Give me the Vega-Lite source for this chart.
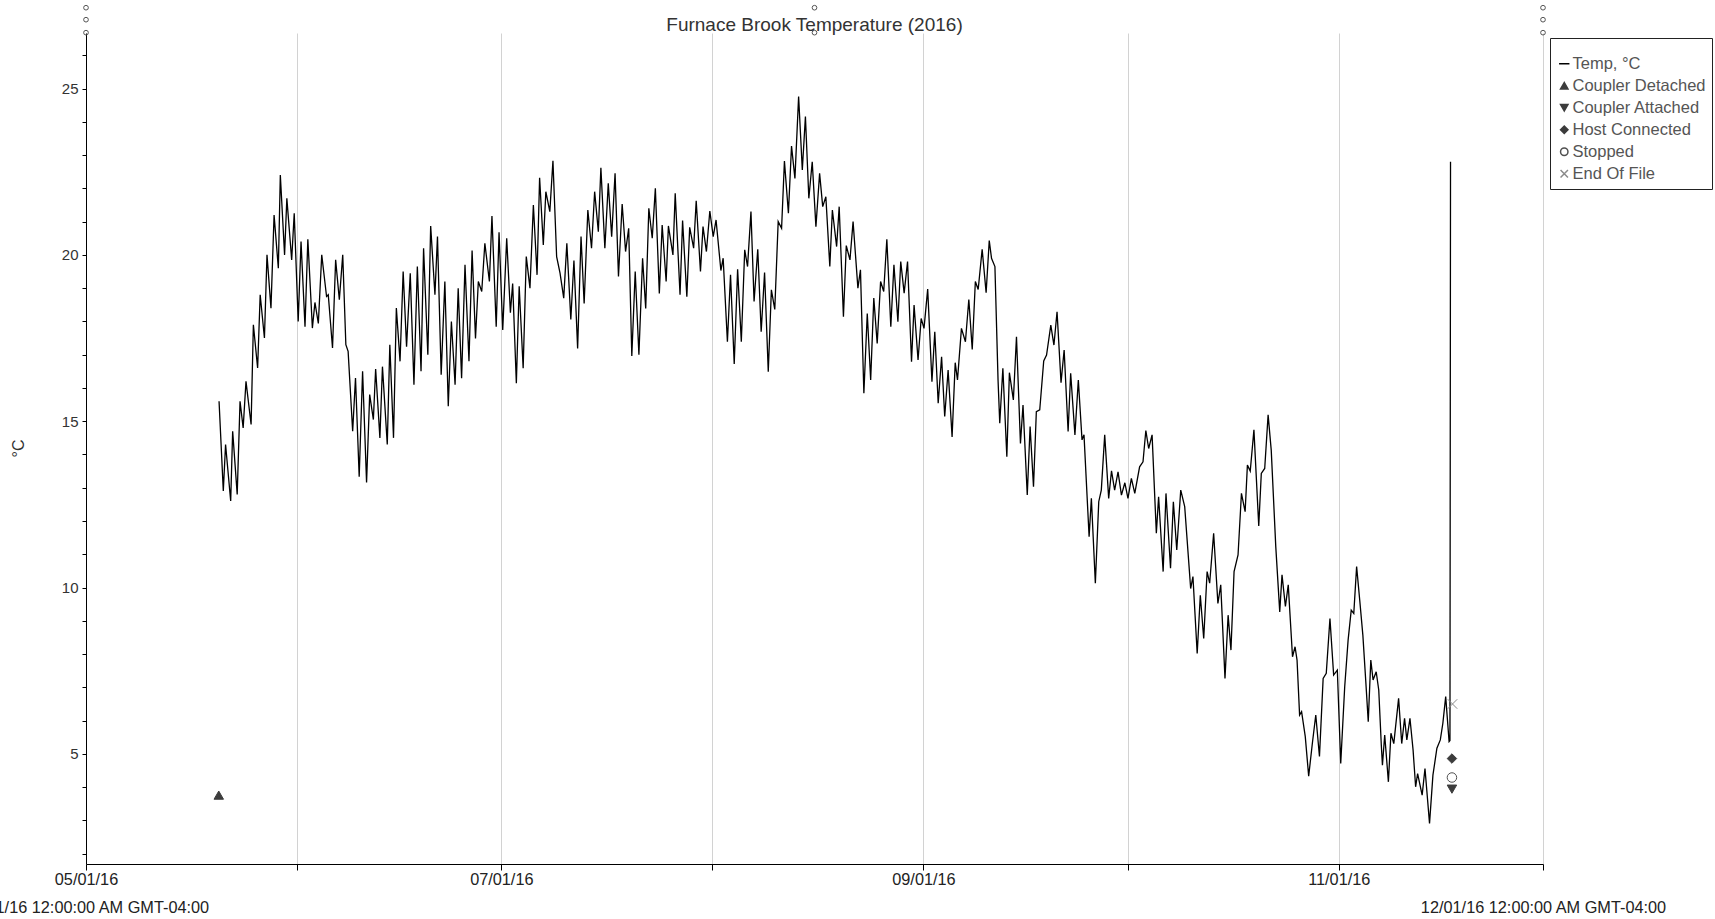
{
  "$schema": "https://vega.github.io/schema/vega-lite/v6.json",
  "width": 1457,
  "height": 831,
  "autosize": {"type": "none"},
  "padding": {"left": 86, "top": 33, "right": 172, "bottom": 55},
  "background": "white",
  "config": {"view": {"stroke": null}, "font": "Liberation Sans", "axisY": {"labelOverlap": false}, "axis": {"labelOverlap": false}},
  "title": {"text": "Furnace Brook Temperature (2016)", "frame": "group", "anchor": "middle", "baseline": "middle", "offset": -40.5, "fontSize": 19, "fontWeight": "normal", "color": "#333333", "font": "Liberation Sans"},
  "datasets": {
    "temp": [
      {"t":"2016-05-20T13:00","v":15.6},{"t":"2016-05-21T04:00","v":12.9},{"t":"2016-05-21T12:00","v":14.3},{"t":"2016-05-22T06:00","v":12.6},{"t":"2016-05-22T13:00","v":14.7},{"t":"2016-05-23T05:00","v":12.8},{"t":"2016-05-23T15:00","v":15.6},{"t":"2016-05-24T02:00","v":14.8},{"t":"2016-05-24T12:00","v":16.2},{"t":"2016-05-25T06:00","v":14.9},{"t":"2016-05-25T14:00","v":17.9},{"t":"2016-05-26T05:00","v":16.6},{"t":"2016-05-26T14:00","v":18.8},{"t":"2016-05-27T05:00","v":17.5},{"t":"2016-05-27T14:00","v":20.0},{"t":"2016-05-28T04:00","v":18.4},{"t":"2016-05-28T15:00","v":21.2},{"t":"2016-05-29T06:00","v":19.6},{"t":"2016-05-29T13:00","v":22.4},{"t":"2016-05-30T04:00","v":20.0},{"t":"2016-05-30T12:00","v":21.7},{"t":"2016-05-31T05:00","v":19.85},{"t":"2016-05-31T14:00","v":21.25},
      {"t":"2016-06-01T04:00","v":18.0},{"t":"2016-06-01T14:00","v":20.4},{"t":"2016-06-02T04:00","v":17.84},{"t":"2016-06-02T14:00","v":20.47},{"t":"2016-06-03T06:00","v":17.8},{"t":"2016-06-03T15:00","v":18.57},{"t":"2016-06-04T03:00","v":17.94},{"t":"2016-06-04T15:00","v":20.0},{"t":"2016-06-05T08:00","v":18.75},{"t":"2016-06-05T14:00","v":18.8},{"t":"2016-06-06T05:00","v":17.2},{"t":"2016-06-06T16:00","v":19.85},{"t":"2016-06-07T05:00","v":18.65},{"t":"2016-06-07T17:00","v":20.0},{"t":"2016-06-08T04:00","v":17.3},{"t":"2016-06-08T12:00","v":17.1},{"t":"2016-06-09T04:00","v":14.7},{"t":"2016-06-09T14:00","v":16.3},{"t":"2016-06-10T03:00","v":13.33},{"t":"2016-06-10T15:00","v":16.5},{"t":"2016-06-11T05:00","v":13.16},{"t":"2016-06-11T16:00","v":15.8},{"t":"2016-06-12T05:00","v":15.05},{"t":"2016-06-12T13:00","v":16.57},{"t":"2016-06-13T04:00","v":14.5},{"t":"2016-06-13T13:00","v":16.64},{"t":"2016-06-14T06:00","v":14.3},{"t":"2016-06-14T15:00","v":17.3},{"t":"2016-06-15T04:00","v":14.5},{"t":"2016-06-15T14:00","v":18.4},{"t":"2016-06-16T03:00","v":16.8},{"t":"2016-06-16T14:00","v":19.5},{"t":"2016-06-17T02:00","v":17.24},{"t":"2016-06-17T15:00","v":19.45},{"t":"2016-06-18T04:00","v":16.1},{"t":"2016-06-18T16:00","v":19.65},{"t":"2016-06-19T05:00","v":16.5},{"t":"2016-06-19T14:00","v":20.2},{"t":"2016-06-20T05:00","v":17.0},{"t":"2016-06-20T15:00","v":20.87},{"t":"2016-06-21T06:00","v":18.8},{"t":"2016-06-21T15:00","v":20.55},{"t":"2016-06-22T04:00","v":16.4},{"t":"2016-06-22T17:00","v":19.2},{"t":"2016-06-23T05:00","v":15.45},{"t":"2016-06-23T16:00","v":18.0},{"t":"2016-06-24T05:00","v":16.1},{"t":"2016-06-24T16:00","v":19.0},{"t":"2016-06-25T04:00","v":16.29},{"t":"2016-06-25T16:00","v":19.7},{"t":"2016-06-26T06:00","v":16.8},{"t":"2016-06-26T17:00","v":20.13},{"t":"2016-06-27T05:00","v":17.49},{"t":"2016-06-27T15:00","v":19.2},{"t":"2016-06-28T03:00","v":18.9},{"t":"2016-06-28T14:00","v":20.35},{"t":"2016-06-29T06:00","v":19.2},{"t":"2016-06-29T15:00","v":21.17},{"t":"2016-06-30T06:00","v":17.84},{"t":"2016-06-30T16:00","v":20.68},
      {"t":"2016-07-01T05:00","v":17.74},{"t":"2016-07-01T19:00","v":20.5},{"t":"2016-07-02T08:00","v":18.26},{"t":"2016-07-02T16:00","v":19.14},{"t":"2016-07-03T05:00","v":16.14},{"t":"2016-07-03T15:00","v":19.06},{"t":"2016-07-04T05:00","v":16.59},{"t":"2016-07-04T16:00","v":19.95},{"t":"2016-07-05T05:00","v":19.0},{"t":"2016-07-05T17:00","v":21.5},{"t":"2016-07-06T06:00","v":19.4},{"t":"2016-07-06T15:00","v":22.32},{"t":"2016-07-07T04:00","v":20.3},{"t":"2016-07-07T13:00","v":21.9},{"t":"2016-07-08T03:00","v":21.3},{"t":"2016-07-08T14:00","v":22.83},{"t":"2016-07-09T03:00","v":19.95},{"t":"2016-07-09T15:00","v":19.45},{"t":"2016-07-10T04:00","v":18.7},{"t":"2016-07-10T15:00","v":20.35},{"t":"2016-07-11T05:00","v":18.06},{"t":"2016-07-11T16:00","v":19.83},{"t":"2016-07-12T05:00","v":17.19},{"t":"2016-07-12T17:00","v":20.55},{"t":"2016-07-13T04:00","v":18.54},{"t":"2016-07-13T17:00","v":21.35},{"t":"2016-07-14T06:00","v":20.2},{"t":"2016-07-14T17:00","v":21.9},{"t":"2016-07-15T06:00","v":20.7},{"t":"2016-07-15T15:00","v":22.62},{"t":"2016-07-16T05:00","v":20.2},{"t":"2016-07-16T17:00","v":22.15},{"t":"2016-07-17T05:00","v":20.55},{"t":"2016-07-17T17:00","v":22.45},{"t":"2016-07-18T05:00","v":19.35},{"t":"2016-07-18T18:00","v":21.53},{"t":"2016-07-19T06:00","v":20.1},{"t":"2016-07-19T17:00","v":20.8},{"t":"2016-07-20T04:00","v":16.96},{"t":"2016-07-20T16:00","v":19.5},{"t":"2016-07-21T05:00","v":17.0},{"t":"2016-07-21T18:00","v":19.9},{"t":"2016-07-22T05:00","v":18.39},{"t":"2016-07-22T16:00","v":21.4},{"t":"2016-07-23T04:00","v":20.5},{"t":"2016-07-23T15:00","v":22.0},{"t":"2016-07-24T05:00","v":18.84},{"t":"2016-07-24T15:00","v":20.9},{"t":"2016-07-25T05:00","v":19.2},{"t":"2016-07-25T13:00","v":20.87},{"t":"2016-07-26T05:00","v":20.0},{"t":"2016-07-26T13:00","v":21.85},{"t":"2016-07-27T06:00","v":18.8},{"t":"2016-07-27T15:00","v":21.03},{"t":"2016-07-28T06:00","v":18.74},{"t":"2016-07-28T16:00","v":20.83},{"t":"2016-07-29T06:00","v":20.2},{"t":"2016-07-29T15:00","v":21.63},{"t":"2016-07-30T06:00","v":19.5},{"t":"2016-07-30T15:00","v":20.85},{"t":"2016-07-31T03:00","v":20.1},{"t":"2016-07-31T15:00","v":21.32},
      {"t":"2016-08-01T03:00","v":20.55},{"t":"2016-08-01T13:00","v":21.05},{"t":"2016-08-02T06:00","v":19.53},{"t":"2016-08-02T14:00","v":19.9},{"t":"2016-08-03T05:00","v":17.39},{"t":"2016-08-03T16:00","v":19.4},{"t":"2016-08-04T05:00","v":16.72},{"t":"2016-08-04T17:00","v":19.57},{"t":"2016-08-05T06:00","v":17.39},{"t":"2016-08-05T18:00","v":20.15},{"t":"2016-08-06T04:00","v":19.65},{"t":"2016-08-06T16:00","v":21.3},{"t":"2016-08-07T03:00","v":18.6},{"t":"2016-08-07T16:00","v":20.17},{"t":"2016-08-08T04:00","v":17.69},{"t":"2016-08-08T16:00","v":19.47},{"t":"2016-08-09T05:00","v":16.49},{"t":"2016-08-09T16:00","v":18.95},{"t":"2016-08-10T04:00","v":18.36},{"t":"2016-08-10T16:00","v":21.0},{"t":"2016-08-11T04:00","v":20.8},{"t":"2016-08-11T14:00","v":22.82},{"t":"2016-08-12T04:00","v":21.25},{"t":"2016-08-12T15:00","v":23.27},{"t":"2016-08-13T03:00","v":22.3},{"t":"2016-08-13T16:00","v":24.76},{"t":"2016-08-14T05:00","v":22.55},{"t":"2016-08-14T16:00","v":24.16},{"t":"2016-08-15T04:00","v":21.7},{"t":"2016-08-15T16:00","v":22.8},{"t":"2016-08-16T05:00","v":20.85},{"t":"2016-08-16T18:00","v":22.45},{"t":"2016-08-17T05:00","v":21.45},{"t":"2016-08-17T16:00","v":21.75},{"t":"2016-08-18T06:00","v":19.65},{"t":"2016-08-18T15:00","v":21.35},{"t":"2016-08-19T06:00","v":20.25},{"t":"2016-08-19T15:00","v":21.45},{"t":"2016-08-20T06:00","v":18.14},{"t":"2016-08-20T16:00","v":20.28},{"t":"2016-08-21T05:00","v":19.85},{"t":"2016-08-21T16:00","v":21.0},{"t":"2016-08-22T09:00","v":19.0},{"t":"2016-08-22T18:00","v":19.55},{"t":"2016-08-23T06:00","v":15.84},{"t":"2016-08-23T18:00","v":18.24},{"t":"2016-08-24T06:00","v":16.24},{"t":"2016-08-24T17:00","v":18.7},{"t":"2016-08-25T05:00","v":17.34},{"t":"2016-08-25T17:00","v":19.2},{"t":"2016-08-26T04:00","v":18.9},{"t":"2016-08-26T15:00","v":20.47},{"t":"2016-08-27T05:00","v":17.84},{"t":"2016-08-27T16:00","v":19.7},{"t":"2016-08-28T06:00","v":17.99},{"t":"2016-08-28T16:00","v":19.8},{"t":"2016-08-29T04:00","v":18.85},{"t":"2016-08-29T16:00","v":19.8},{"t":"2016-08-30T06:00","v":16.79},{"t":"2016-08-30T15:00","v":18.49},{"t":"2016-08-31T05:00","v":16.84},{"t":"2016-08-31T16:00","v":18.09},
      {"t":"2016-09-01T02:00","v":17.79},{"t":"2016-09-01T15:00","v":18.97},{"t":"2016-09-02T06:00","v":16.19},{"t":"2016-09-02T16:00","v":17.69},{"t":"2016-09-03T04:00","v":15.54},{"t":"2016-09-03T16:00","v":16.94},{"t":"2016-09-04T03:00","v":15.14},{"t":"2016-09-04T15:00","v":16.54},{"t":"2016-09-05T05:00","v":14.53},{"t":"2016-09-05T16:00","v":16.76},{"t":"2016-09-06T00:00","v":16.24},{"t":"2016-09-06T14:00","v":17.79},{"t":"2016-09-07T04:00","v":17.39},{"t":"2016-09-07T16:00","v":18.66},{"t":"2016-09-08T04:00","v":17.16},{"t":"2016-09-08T15:00","v":19.2},{"t":"2016-09-09T01:00","v":18.96},{"t":"2016-09-09T15:00","v":20.17},{"t":"2016-09-10T05:00","v":18.86},{"t":"2016-09-10T16:00","v":20.43},{"t":"2016-09-11T00:00","v":19.9},{"t":"2016-09-11T12:00","v":19.65},{"t":"2016-09-11T23:00","v":16.24},{"t":"2016-09-12T05:00","v":14.94},{"t":"2016-09-12T16:00","v":16.59},{"t":"2016-09-13T06:00","v":13.93},{"t":"2016-09-13T15:00","v":16.46},{"t":"2016-09-14T05:00","v":15.64},{"t":"2016-09-14T16:00","v":17.54},{"t":"2016-09-15T06:00","v":14.33},{"t":"2016-09-15T15:00","v":15.49},{"t":"2016-09-16T06:00","v":12.78},{"t":"2016-09-16T16:00","v":14.84},{"t":"2016-09-17T04:00","v":13.03},{"t":"2016-09-17T14:00","v":15.29},{"t":"2016-09-18T02:00","v":15.34},{"t":"2016-09-18T16:00","v":16.81},{"t":"2016-09-19T02:00","v":16.99},{"t":"2016-09-19T17:00","v":17.89},{"t":"2016-09-20T04:00","v":17.29},{"t":"2016-09-20T15:00","v":18.29},{"t":"2016-09-21T05:00","v":16.16},{"t":"2016-09-21T16:00","v":17.14},{"t":"2016-09-22T06:00","v":14.69},{"t":"2016-09-22T15:00","v":16.44},{"t":"2016-09-23T06:00","v":14.59},{"t":"2016-09-23T18:00","v":16.24},{"t":"2016-09-24T07:00","v":14.44},{"t":"2016-09-24T14:00","v":14.59},{"t":"2016-09-25T08:00","v":11.53},{"t":"2016-09-25T16:00","v":12.68},{"t":"2016-09-26T06:00","v":10.13},{"t":"2016-09-26T18:00","v":12.58},{"t":"2016-09-27T03:00","v":12.93},{"t":"2016-09-27T15:00","v":14.59},{"t":"2016-09-28T05:00","v":12.68},{"t":"2016-09-28T15:00","v":13.51},{"t":"2016-09-29T02:00","v":12.93},{"t":"2016-09-29T14:00","v":13.48},{"t":"2016-09-30T02:00","v":12.78},{"t":"2016-09-30T14:00","v":13.15},
      {"t":"2016-10-01T01:00","v":12.68},{"t":"2016-10-01T13:00","v":13.28},{"t":"2016-10-02T01:00","v":12.83},{"t":"2016-10-02T18:00","v":13.63},{"t":"2016-10-03T06:00","v":13.78},{"t":"2016-10-03T16:00","v":14.72},{"t":"2016-10-04T02:00","v":14.18},{"t":"2016-10-04T14:00","v":14.59},{"t":"2016-10-05T05:00","v":11.63},{"t":"2016-10-05T13:00","v":12.73},{"t":"2016-10-06T05:00","v":10.48},{"t":"2016-10-06T15:00","v":12.83},{"t":"2016-10-07T07:00","v":10.58},{"t":"2016-10-07T17:00","v":12.58},{"t":"2016-10-08T05:00","v":11.13},{"t":"2016-10-08T19:00","v":12.93},{"t":"2016-10-09T09:00","v":12.43},{"t":"2016-10-10T06:00","v":9.97},{"t":"2016-10-10T14:00","v":10.33},{"t":"2016-10-11T05:00","v":8.02},{"t":"2016-10-11T16:00","v":9.77},{"t":"2016-10-12T04:00","v":8.47},{"t":"2016-10-12T16:00","v":10.48},{"t":"2016-10-13T01:00","v":10.13},{"t":"2016-10-13T15:00","v":11.63},{"t":"2016-10-14T06:00","v":9.52},{"t":"2016-10-14T16:00","v":10.08},{"t":"2016-10-15T07:00","v":7.27},{"t":"2016-10-15T18:00","v":9.17},{"t":"2016-10-16T04:00","v":8.12},{"t":"2016-10-16T15:00","v":10.48},{"t":"2016-10-17T05:00","v":10.98},{"t":"2016-10-17T17:00","v":12.83},{"t":"2016-10-18T06:00","v":12.28},{"t":"2016-10-18T14:00","v":13.68},{"t":"2016-10-19T00:00","v":13.5},{"t":"2016-10-19T13:00","v":14.74},{"t":"2016-10-20T06:00","v":11.85},{"t":"2016-10-20T15:00","v":13.43},{"t":"2016-10-21T03:00","v":13.58},{"t":"2016-10-21T15:00","v":15.19},{"t":"2016-10-22T02:00","v":14.13},{"t":"2016-10-22T18:00","v":11.23},{"t":"2016-10-23T08:00","v":9.27},{"t":"2016-10-23T16:00","v":10.38},{"t":"2016-10-24T04:00","v":9.43},{"t":"2016-10-24T14:00","v":10.08},{"t":"2016-10-25T05:00","v":7.92},{"t":"2016-10-25T14:00","v":8.22},{"t":"2016-10-25T21:00","v":7.82},{"t":"2016-10-26T06:00","v":6.17},{"t":"2016-10-26T13:00","v":6.27},{"t":"2016-10-27T02:00","v":5.52},{"t":"2016-10-27T14:00","v":4.33},{"t":"2016-10-28T03:00","v":5.32},{"t":"2016-10-28T15:00","v":6.17},{"t":"2016-10-29T04:00","v":4.92},{"t":"2016-10-29T17:00","v":7.27},{"t":"2016-10-30T04:00","v":7.42},{"t":"2016-10-30T17:00","v":9.07},{"t":"2016-10-31T06:00","v":7.37},{"t":"2016-10-31T19:00","v":7.52},
      {"t":"2016-11-01T07:00","v":4.71},{"t":"2016-11-01T21:00","v":7.02},{"t":"2016-11-02T09:00","v":8.42},{"t":"2016-11-02T20:00","v":9.32},{"t":"2016-11-03T05:00","v":9.22},{"t":"2016-11-03T15:00","v":10.63},{"t":"2016-11-04T02:00","v":9.62},{"t":"2016-11-04T13:00","v":8.57},{"t":"2016-11-04T23:00","v":7.22},{"t":"2016-11-05T08:00","v":5.97},{"t":"2016-11-05T17:00","v":7.82},{"t":"2016-11-06T01:00","v":7.22},{"t":"2016-11-06T12:00","v":7.47},{"t":"2016-11-06T21:00","v":6.92},{"t":"2016-11-07T06:00","v":5.27},{"t":"2016-11-07T10:00","v":4.66},{"t":"2016-11-07T18:00","v":5.57},{"t":"2016-11-08T07:00","v":4.16},{"t":"2016-11-08T16:00","v":5.62},{"t":"2016-11-09T02:00","v":5.31},{"t":"2016-11-09T19:00","v":6.67},{"t":"2016-11-10T06:00","v":5.31},{"t":"2016-11-10T16:00","v":6.07},{"t":"2016-11-11T00:00","v":5.42},{"t":"2016-11-11T11:00","v":6.07},{"t":"2016-11-11T22:00","v":5.12},{"t":"2016-11-12T07:00","v":4.01},{"t":"2016-11-12T14:00","v":4.41},{"t":"2016-11-13T06:00","v":3.76},{"t":"2016-11-13T16:00","v":4.56},{"t":"2016-11-14T08:00","v":2.91},{"t":"2016-11-14T20:00","v":4.36},{"t":"2016-11-15T10:00","v":5.17},{"t":"2016-11-15T22:00","v":5.42},{"t":"2016-11-16T07:00","v":5.92},{"t":"2016-11-16T17:00","v":6.72},{"t":"2016-11-17T05:00","v":5.37},{"t":"2016-11-17T08:00","v":5.4},{"t":"2016-11-17T09:00","v":13.83},{"t":"2016-11-17T10:00","v":22.8}
    ],
    "events": [
      {"t":"2016-05-20T12:00","v":3.76,"event":"Coupler Detached"},
      {"t":"2016-11-17T15:00","v":4.86,"event":"Host Connected"},
      {"t":"2016-11-17T15:00","v":4.29,"event":"Stopped"},
      {"t":"2016-11-17T15:00","v":3.94,"event":"Coupler Attached"},
      {"t":"2016-11-17T17:00","v":6.5,"event":"End Of File"}
    ],
    "handles": [
      {"t":"2016-05-01T00:00","v":27.43},{"t":"2016-05-01T00:00","v":27.07},{"t":"2016-05-01T00:00","v":26.68},
      {"t":"2016-08-16T00:00","v":27.43},{"t":"2016-08-16T00:00","v":26.68},
      {"t":"2016-12-01T00:00","v":27.43},{"t":"2016-12-01T00:00","v":27.07},{"t":"2016-12-01T00:00","v":26.68}
    ]
  },
  "layer": [
    {
      "data": {"name": "temp"},
      "mark": {"type": "line", "color": "#000000", "strokeWidth": 1.3},
      "encoding": {
        "x": {
          "field": "t", "type": "temporal",
          "scale": {"domain": [{"year": 2016, "month": 5, "date": 1}, {"year": 2016, "month": 12, "date": 1}]},
          "axis": {
            "title": null,
            "values": [{"year": 2016, "month": 5, "date": 1}, {"year": 2016, "month": 6, "date": 1}, {"year": 2016, "month": 7, "date": 1}, {"year": 2016, "month": 8, "date": 1}, {"year": 2016, "month": 9, "date": 1}, {"year": 2016, "month": 10, "date": 1}, {"year": 2016, "month": 11, "date": 1}, {"year": 2016, "month": 12, "date": 1}],
            "tickCount": 20,
            "format": "%m/%d/%y",
            "labelExpr": "month(datum.value) == 4 ? [datum.label, datum.label + ' 12:00:00 AM GMT-04:00'] : (month(datum.value) == 11 ? ['', datum.label + ' 12:00:00 AM GMT-04:00'] : (month(datum.value) % 2 == 0 ? datum.label : ''))",
            "grid": true, "gridColor": "#d2d2d2", "gridWidth": 1,
            "domainColor": "#000000", "domainWidth": 1,
            "tickColor": "#000000", "tickSize": 6,
            "labelFont": "Liberation Sans", "labelFontSize": 16.3, "labelColor": "#222222",
            "labelPadding": 1, "labelLineHeight": 28, "labelLimit": 500,
            "labelOverlap": false, "labelFlush": false, "labelBound": false
          }
        },
        "y": {
          "field": "v", "type": "quantitative",
          "scale": {"domain": [1.69, 26.67], "nice": false, "zero": false},
          "axis": {
            "title": "°C",
            "values": [2,3,4,5,6,7,8,9,10,11,12,13,14,15,16,17,18,19,20,21,22,23,24,25,26],
            "tickCount": 40,
            "format": "d",
            "labelExpr": "datum.value % 5 == 0 ? datum.label : ''",
            "labelOverlap": false, "labelBound": false, "labelFlush": false,
            "grid": false,
            "domainColor": "#000000", "tickColor": "#000000", "tickSize": 4,
            "labelFont": "Liberation Sans", "labelFontSize": 15, "labelColor": "#333333", "labelPadding": 4,
            "titleFont": "Liberation Sans", "titleFontSize": 16, "titleFontWeight": "normal", "titleColor": "#333333",
            "titleX": -68, "titleY": 415, "titleAngle": -90, "titleBaseline": "middle", "titleAlign": "center"
          }
        }
      }
    },
    {
      "data": {"name": "events"},
      "mark": {"type": "point", "size": 90, "opacity": 1, "strokeWidth": 1},
      "encoding": {
        "x": {"field": "t", "type": "temporal"},
        "y": {"field": "v", "type": "quantitative"},
        "shape": {
          "field": "event", "type": "nominal",
          "scale": {"domain": ["Temp, °C", "Coupler Detached", "Coupler Attached", "Host Connected", "Stopped", "End Of File"], "range": ["M-1.4,0L1.4,0", "triangle-up", "triangle-down", "diamond", "circle", "M-1,-1L1,1M-1,1L1,-1"]},
          "legend": {"title": " ", "titleFontSize": 8, "titlePadding": 3.5, "orient": "none", "legendX": 1464, "legendY": 5, "direction": "vertical", "padding": 6, "strokeColor": "#222222", "fillColor": "#ffffff", "labelFont": "Liberation Sans", "labelFontSize": 16.5, "labelColor": "#555555", "symbolSize": 55, "rowPadding": 5, "labelOffset": 0, "labelLimit": 300,
            "encode": {"labels": {"fill": {"condition": {"test": "datum.label === 'Temp, °C'", "value": "#000000"}, "value": "#555555"}}, "symbols": {"strokeWidth": {"condition": {"test": "datum.label === 'Temp, °C'", "value": 2.5}, "value": 1}}}}
        },
        "fill": {
          "field": "event", "type": "nominal",
          "scale": {"domain": ["Temp, °C", "Coupler Detached", "Coupler Attached", "Host Connected", "Stopped", "End Of File"], "range": ["#000000", "#3c3c3c", "#3c3c3c", "#3c3c3c", "#ffffff", "transparent"]},
          "legend": {"title": " ", "titleFontSize": 8, "titlePadding": 3.5, "orient": "none", "legendX": 1464, "legendY": 5, "direction": "vertical", "padding": 6, "strokeColor": "#222222", "fillColor": "#ffffff", "labelFont": "Liberation Sans", "labelFontSize": 16.5, "labelColor": "#555555", "symbolSize": 55, "rowPadding": 5, "labelOffset": 0, "labelLimit": 300}
        },
        "stroke": {
          "field": "event", "type": "nominal",
          "scale": {"domain": ["Temp, °C", "Coupler Detached", "Coupler Attached", "Host Connected", "Stopped", "End Of File"], "range": ["#000000", "#3c3c3c", "#3c3c3c", "#3c3c3c", "#505050", "#8a8a8a"]},
          "legend": {"title": " ", "titleFontSize": 8, "titlePadding": 3.5, "orient": "none", "legendX": 1464, "legendY": 5, "direction": "vertical", "padding": 6, "strokeColor": "#222222", "fillColor": "#ffffff", "labelFont": "Liberation Sans", "labelFontSize": 16.5, "labelColor": "#555555", "symbolSize": 55, "rowPadding": 5, "labelOffset": 0, "labelLimit": 300}
        }
      }
    },
    {
      "data": {"name": "handles"},
      "mark": {"type": "point", "shape": "circle", "size": 22, "filled": false, "stroke": "#555555", "strokeWidth": 1, "opacity": 1},
      "encoding": {
        "x": {"field": "t", "type": "temporal"},
        "y": {"field": "v", "type": "quantitative"}
      }
    }
  ]
}
